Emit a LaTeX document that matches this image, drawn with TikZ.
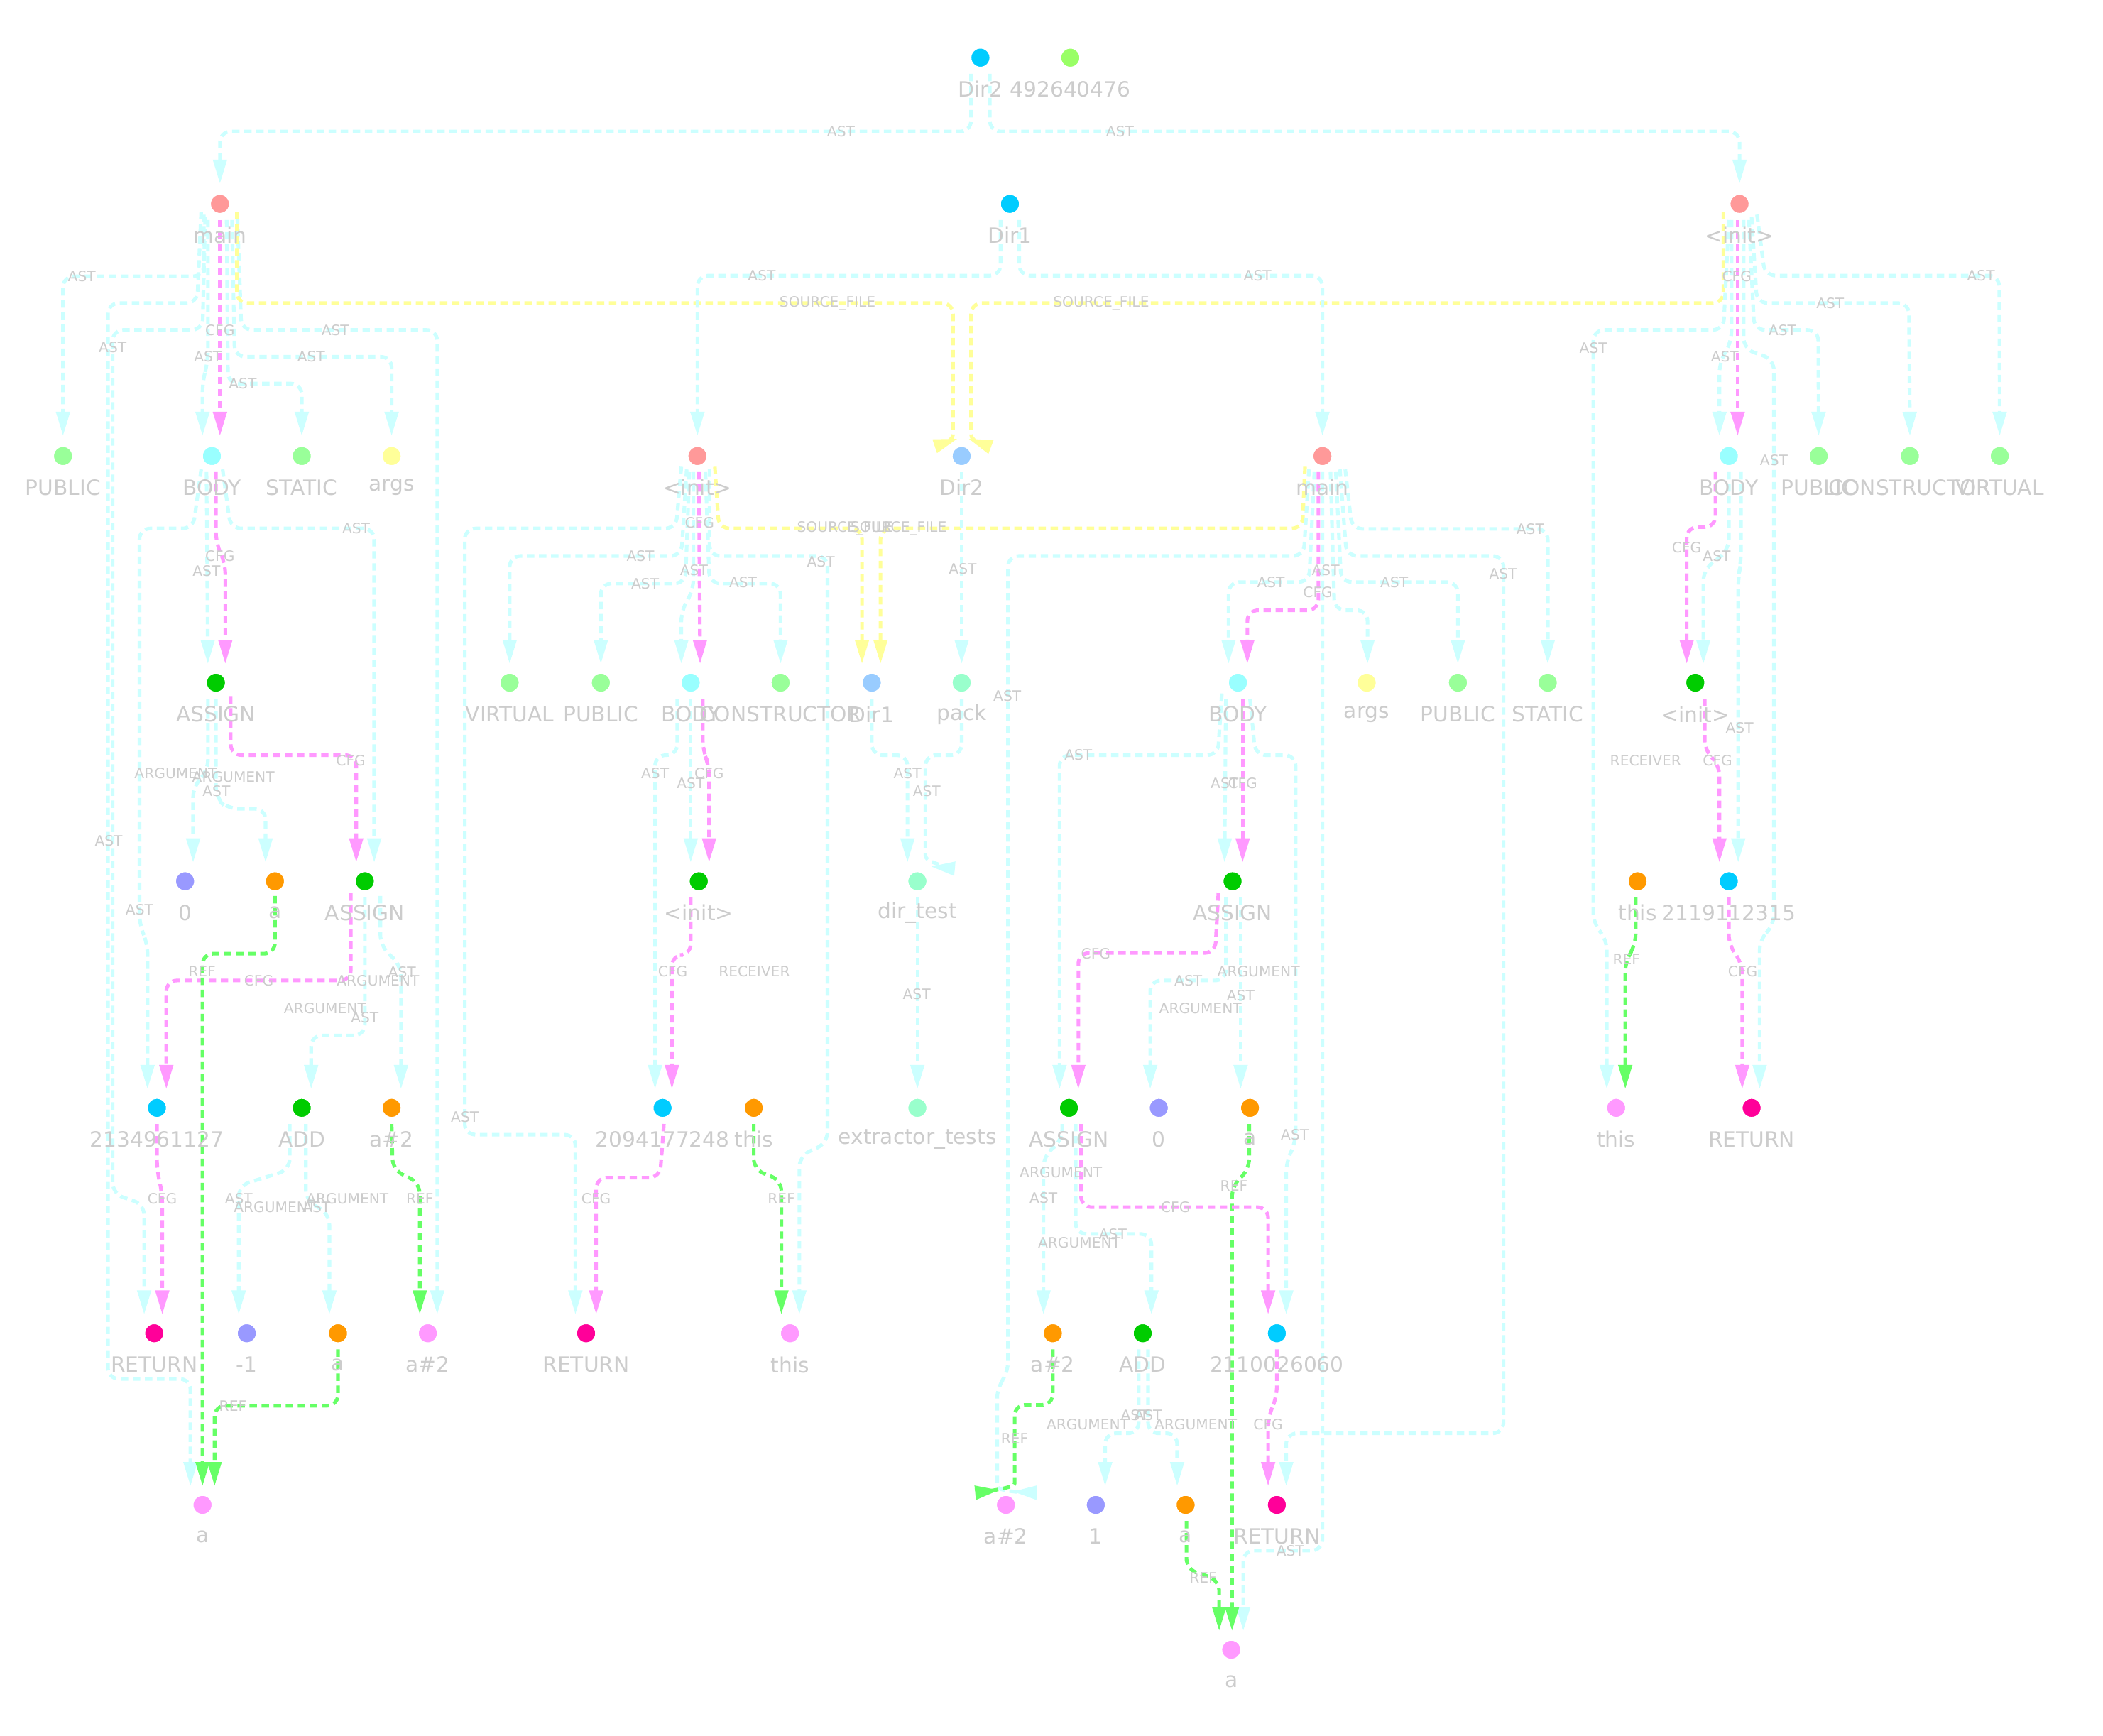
\documentclass[tikz,border=0pt]{standalone}
\usepackage{fontspec}
\setmainfont{DejaVu Sans}
\usetikzlibrary{arrows.meta,calc}
\definecolor{methc}{HTML}{FF9999}
\definecolor{dirc}{HTML}{00CCFF}
\definecolor{limec}{HTML}{99FF66}
\definecolor{modc}{HTML}{99FF99}
\definecolor{bodyc}{HTML}{99FFFF}
\definecolor{argc}{HTML}{FFFF99}
\definecolor{filec}{HTML}{99CCFF}
\definecolor{nsc}{HTML}{99FFCC}
\definecolor{callc}{HTML}{00CC00}
\definecolor{litc}{HTML}{9999FF}
\definecolor{idc}{HTML}{FF9900}
\definecolor{locc}{HTML}{FF99FF}
\definecolor{retc}{HTML}{FF0099}
\definecolor{astc}{HTML}{CCFFFF}
\definecolor{cfgc}{HTML}{FF99FF}
\definecolor{refc}{HTML}{66FF66}
\definecolor{srcc}{HTML}{FFFF99}
\definecolor{labc}{HTML}{CCCCCC}
\pgfdeclarelayer{bgl}
\pgfdeclarelayer{edg}
\pgfsetlayers{bgl,edg,main}
\tikzset{
  dot/.style={circle,minimum size=16pt,inner sep=0pt,draw=white,line width=2.5pt},
  nlab/.style={text=labc,font=\fontsize{15.7}{18}\selectfont,inner sep=0pt},
  elab/.style={text=labc,font=\fontsize{10.7}{12}\selectfont,inner sep=0pt},
  edgebase/.style={line width=2.7pt,dash pattern=on 5.5pt off 3.5pt,rounded corners=8pt,-{Triangle[length=18pt,width=10pt]}},
  ast/.style={edgebase,draw=astc},
  cfg/.style={edgebase,draw=cfgc},
  ref/.style={edgebase,draw=refc},
  src/.style={edgebase,draw=srcc},
}
\newcommand\gnode[5]{\node[dot,fill=#4] (#1) at (#2,#3) {}; \node[nlab] (#1l) at (#2,#3+23.5) {#5};}
\newcommand\elabel[4]{\node[elab] (#1) at (#2,#3) {#4};}
\begin{document}
\begin{tikzpicture}[x=1pt,y=-1pt]
\begin{pgfonlayer}{bgl}
\fill[white] (0,0) rectangle (1568,1294);
\end{pgfonlayer}
\useasboundingbox (0,0) rectangle (1568,1294);
% ---------- nodes ----------
\gnode{dirA}{731}{43}{dirc}{Dir2}
\gnode{numA}{798}{43}{limec}{492640476}
\gnode{mainL}{164}{152}{methc}{main}
\gnode{dirB}{753}{152}{dirc}{Dir1}
\gnode{initR}{1297}{152}{methc}{<init>}
\gnode{pubL}{47}{340}{modc}{PUBLIC}
\gnode{bodyL}{158}{340}{bodyc}{BODY}
\gnode{statL}{225}{340}{modc}{STATIC}
\gnode{argsL}{292}{340}{argc}{args}
\gnode{initM}{520}{340}{methc}{<init>}
\gnode{dirC}{717}{340}{filec}{Dir2}
\gnode{mainM}{986}{340}{methc}{main}
\gnode{bodyR}{1289}{340}{bodyc}{BODY}
\gnode{pubR}{1356}{340}{modc}{PUBLIC}
\gnode{consR}{1424}{340}{modc}{CONSTRUCTOR}
\gnode{virtR}{1491}{340}{modc}{VIRTUAL}
\gnode{asgA}{161}{509}{callc}{ASSIGN}
\gnode{virtM}{380}{509}{modc}{VIRTUAL}
\gnode{pubM}{448}{509}{modc}{PUBLIC}
\gnode{bodyM}{515}{509}{bodyc}{BODY}
\gnode{consM}{582}{509}{modc}{CONSTRUCTOR}
\gnode{dirD}{650}{509}{filec}{Dir1}
\gnode{pack}{717}{509}{nsc}{pack}
\gnode{bodyN}{923}{509}{bodyc}{BODY}
\gnode{argsN}{1019}{509}{argc}{args}
\gnode{pubN}{1087}{509}{modc}{PUBLIC}
\gnode{statN}{1154}{509}{modc}{STATIC}
\gnode{initS}{1264}{509}{callc}{<init>}
\gnode{zeroA}{138}{657}{litc}{0}
\gnode{aE}{205}{657}{idc}{a}
\gnode{asgB}{272}{657}{callc}{ASSIGN}
\gnode{initE}{521}{657}{callc}{<init>}
\gnode{dirtest}{684}{657}{nsc}{dir\_test}
\gnode{asgC}{919}{657}{callc}{ASSIGN}
\gnode{thisE}{1221}{657}{idc}{this}
\gnode{nB}{1289}{657}{dirc}{2119112315}
\gnode{nA}{117}{826}{dirc}{2134961127}
\gnode{addA}{225}{826}{callc}{ADD}
\gnode{aTwoF}{292}{826}{idc}{a\#2}
\gnode{nC}{494}{826}{dirc}{2094177248}
\gnode{thisF}{562}{826}{idc}{this}
\gnode{extr}{684}{826}{nsc}{extractor\_tests}
\gnode{asgD}{797}{826}{callc}{ASSIGN}
\gnode{zeroB}{864}{826}{litc}{0}
\gnode{aF}{932}{826}{idc}{a}
\gnode{thisR}{1205}{826}{locc}{this}
\gnode{retR}{1306}{826}{retc}{RETURN}
\gnode{retA}{115}{994}{retc}{RETURN}
\gnode{mOne}{184}{994}{litc}{-1}
\gnode{aG}{252}{994}{idc}{a}
\gnode{aTwoG}{319}{994}{locc}{a\#2}
\gnode{retB}{437}{994}{retc}{RETURN}
\gnode{thisG}{589}{994}{locc}{this}
\gnode{aTwoK}{785}{994}{idc}{a\#2}
\gnode{addB}{852}{994}{callc}{ADD}
\gnode{nD}{952}{994}{dirc}{2110026060}
\gnode{aH}{151}{1122}{locc}{a}
\gnode{aTwoH}{750}{1122}{locc}{a\#2}
\gnode{one}{817}{1122}{litc}{1}
\gnode{aK}{884}{1122}{idc}{a}
\gnode{retC}{952}{1122}{retc}{RETURN}
\gnode{aI}{918}{1230}{locc}{a}
% ---------- edges ----------
\begin{pgfonlayer}{edg}
% top
\draw[ast] ($(dirA)+(-7,12)$) -- (724,98) -- (164,98) -- ($(mainL)+(0,-15)$);
\draw[ast] ($(dirA)+(7,12)$) -- (738,98) -- (1297,98) -- ($(initR)+(0,-15)$);
% main (left)
\draw[ast] ($(mainL)+(-12,8)$) -- (152,206) -- (47,206) -- ($(pubL)+(0,-15)$);
\draw[ast] ($(mainL)+(-9,12)$) -- (155,270) -- (151,284) -- ($(bodyL)+(-7,-15)$);
\draw[cfg] ($(mainL)+(0,12)$) -- ($(bodyL)+(6,-15)$);
\draw[ast] ($(mainL)+(5,12)$) -- (170,286) -- (225,286) -- ($(statL)+(0,-15)$);
\draw[ast] ($(mainL)+(9,12)$) -- (175,266) -- (292,266) -- ($(argsL)+(0,-15)$);
\draw[ast] ($(mainL)+(13,10)$) -- (180,246) -- (326,246) -- ($(aTwoG)+(7,-14)$);
\draw[ast] ($(mainL)+(-14,6)$) -- (147,226) -- (80.5,226) -- (80.5,1028) -- (142,1028) -- ($(aH)+(-9,-14)$);
\draw[ast] ($(mainL)+(-11,10)$) -- (151,246) -- (84,246) -- (84,890) -- (107.5,898) -- ($(retA)+(-7.5,-14)$);
\draw[src] ($(mainL)+(12.6,6)$) -- (176.6,226) -- (710.6,226) -- (710.6,316) .. controls (710.6,330) and (696,333) .. ($(dirC)+(-3,-13)$);
\draw[src] ($(initR)+(-12,6)$) -- (1285,226) -- (724,226) -- (724,316) .. controls (724,330) and (738,333) .. ($(dirC)+(5,-13)$);
% BODY (left)
\draw[ast] ($(bodyL)+(-4,12)$) -- ($(asgA)+(-6,-14)$);
\draw[cfg] ($(bodyL)+(3,12)$) -- (161,405) -- (168,420) -- ($(asgA)+(7,-14)$);
\draw[ast] ($(bodyL)+(8,10)$) -- (172,394) -- (279,394) -- ($(asgB)+(7,-14)$);
\draw[ast] ($(bodyL)+(-8,10)$) -- (144,394) -- (104,394) -- (104,690) -- (110,703) -- ($(nA)+(-7,-14)$);
% ASSIGN (161,509)
\draw[ast] ($(asgA)+(-6,12)$) -- (155,575) -- (144,586) -- ($(zeroA)+(6,-14)$);
\draw[ast] ($(asgA)+(0,12)$) -- (161,595) -- (170,603) -- (198,603) -- ($(aE)+(-7,-14)$);
\draw[cfg] ($(asgA)+(11,10)$) -- (172,563) -- (265.6,563) -- ($(asgB)+(-6.4,-14)$);
% ASSIGN (272,657)
\draw[cfg] ($(asgB)+(-10.4,9)$) -- (261.6,731) -- (124,731) -- ($(nA)+(7,-14)$);
\draw[ast] ($(asgB)+(0,12)$) -- (272,772) -- (232,772) -- ($(addA)+(7,-14)$);
\draw[ast] ($(asgB)+(11.6,11)$) -- (283.6,705) -- (299,720) -- ($(aTwoF)+(7,-14)$);
\draw[ref] ($(aE)+(0,11)$) -- (205,711) -- (151,711) -- ($(aH)+(0,-14)$);
\draw[cfg] ($(nA)+(0,12)$) -- (117,872) -- (121,890) -- ($(retA)+(6,-14)$);
\draw[ast] ($(addA)+(-9,12)$) -- (216,872) -- (178,884) -- ($(mOne)+(-6,-14)$);
\draw[ast] ($(addA)+(3,12)$) -- (228,895) -- (245.6,905) -- ($(aG)+(-6.4,-14)$);
\draw[ref] ($(aTwoF)+(0,12)$) -- (292.8,872) -- (313,882) -- ($(aTwoG)+(-6,-14)$);
\draw[ref] ($(aG)+(0,12)$) -- (252,1048) -- (160,1048) -- ($(aH)+(9,-14)$);
% Dir1 top
\draw[ast] ($(dirB)+(-7,12)$) -- (746,205.5) -- (520,205.5) -- ($(initM)+(0,-15)$);
\draw[ast] ($(dirB)+(7,12)$) -- (760,205.5) -- (986,205.5) -- ($(mainM)+(0,-15)$);
% <init> (520,340)
\draw[cfg] ($(initM)+(1,12)$) -- ($(bodyM)+(7,-14)$);
\draw[ast] ($(initM)+(-3,12)$) -- (517,440) -- (508,455) -- ($(bodyM)+(-7,-14)$);
\draw[ast] ($(initM)+(-8,10)$) -- (508,414.5) -- (380,414.5) -- ($(virtM)+(0,-14)$);
\draw[ast] ($(initM)+(-6,12)$) -- (511,435) -- (448,435) -- ($(pubM)+(0,-14)$);
\draw[ast] ($(initM)+(6,12)$) -- (529,435) -- (582,435) -- ($(consM)+(0,-14)$);
\draw[ast] ($(initM)+(-12,8)$) -- (504,394) -- (346.5,394) -- (346.5,846) -- (429,846) -- ($(retB)+(-8,-14)$);
\draw[ast] ($(initM)+(9,10)$) -- (529,414.5) -- (617,414.5) -- (617,852) -- (596,862) -- ($(thisG)+(7,-14)$);
\draw[src] ($(initM)+(13,8)$) -- (536,394) -- (642.7,394) -- ($(dirD)+(-7.3,-14)$);
\draw[src] ($(mainM)+(-13,8)$) -- (971,394) -- (656.5,394) -- ($(dirD)+(6.5,-14)$);
% Dir2 / Dir1 / pack
\draw[ast] ($(dirC)+(0,12)$) -- ($(pack)+(0,-14)$);
\draw[ast] ($(dirD)+(0,12)$) -- (650,563) -- (676.6,563) -- ($(dirtest)+(-7.4,-14)$);
\draw[ast] ($(pack)+(0,12)$) -- (717,563) -- (690,563) -- (690,630) .. controls (690,644) and (716,648) .. ($(dirtest)+(10,-11)$);
\draw[ast] ($(dirtest)+(0,12)$) -- ($(extr)+(0,-14)$);
% BODY (515,509)
\draw[ast] ($(bodyM)+(0,12)$) -- ($(initE)+(-6,-14)$);
\draw[cfg] ($(bodyM)+(9,12)$) -- (524,560) -- (528.7,570) -- ($(initE)+(7.7,-14)$);
\draw[ast] ($(bodyM)+(-10,12)$) -- (505,563) -- (488.4,563) -- ($(nC)+(-5.6,-14)$);
\draw[cfg] ($(initE)+(-6,12)$) -- (515,712) -- (501,712) -- ($(nC)+(7,-14)$);
\draw[cfg] ($(nC)+(1,12)$) -- (492,878) -- (444.5,878) -- ($(retB)+(7.5,-14)$);
\draw[ref] ($(thisF)+(0,12)$) -- (562,872) -- (582.6,880) -- ($(thisG)+(-6.4,-14)$);
% main (986,340)
\draw[ast] ($(mainM)+(-6,12)$) -- (976,434) -- (916,434) -- ($(bodyN)+(-7,-14)$);
\draw[cfg] ($(mainM)+(-3,12)$) -- (983,455) -- (930,455) -- ($(bodyN)+(7,-14)$);
\draw[ast] ($(mainM)+(6,12)$) -- (995,455) -- (1019.6,455) -- ($(argsN)+(0.6,-14)$);
\draw[ast] ($(mainM)+(10,12)$) -- (1000,434) -- (1087,434) -- ($(pubN)+(0,-14)$);
\draw[ast] ($(mainM)+(17,10)$) -- (1008,394.3) -- (1154,394.3) -- ($(statN)+(0,-14)$);
\draw[ast] ($(mainM)+(13,10)$) -- (1004,414.5) -- (1121,414.5) -- (1121,1068.6) -- (959,1068.6) -- ($(retC)+(7,-14)$);
\draw[ast] ($(mainM)+(0,12)$) -- (986,1156) -- (927,1156) -- ($(aI)+(9,-14)$);
\draw[ast] ($(mainM)+(-10,10)$) -- (972,414.5) -- (751.5,414.5) -- (751.5,1024) -- (743.5,1034) -- (743.5,1100) .. controls (743.5,1113) and (776,1113) .. ($(aTwoH)+(5,-10)$);
% BODY (923,509)
\draw[ast] ($(bodyN)+(-9,12)$) -- ($(asgC)+(-6,-14)$);
\draw[cfg] ($(bodyN)+(3.5,12)$) -- ($(asgC)+(7.5,-14)$);
\draw[ast] ($(bodyN)+(-12,8)$) -- (908,563) -- (790,563) -- ($(asgD)+(-7,-14)$);
\draw[ast] ($(bodyN)+(9,12)$) -- (936,563) -- (966,563) -- (966,852) -- (959,866) -- ($(nD)+(7,-14)$);
% ASSIGN (919,657)
\draw[cfg] ($(asgC)+(-10.6,9)$) -- (906,710.5) -- (804,710.5) -- ($(asgD)+(7,-14)$);
\draw[ast] ($(asgC)+(-5,12)$) -- (914,731) -- (857.6,731) -- ($(zeroB)+(-6.4,-14)$);
\draw[ast] ($(asgC)+(6,12)$) -- ($(aF)+(-7,-14)$);
\draw[ref] ($(aF)+(-0.6,12)$) -- (931.4,872) -- (918.6,884) -- ($(aI)+(0.6,-14)$);
% ASSIGN (797,826)
\draw[cfg] ($(asgD)+(9,12)$) -- (806,900) -- (945.5,900) -- ($(nD)+(-6.5,-14)$);
\draw[ast] ($(asgD)+(-5,12)$) -- (792,850) -- (778,862) -- ($(aTwoK)+(-7,-14)$);
\draw[ast] ($(asgD)+(5,12)$) -- (802,920) -- (858.5,920) -- ($(addB)+(6.5,-14)$);
\draw[ref] ($(aTwoK)+(0,12)$) -- (785,1047.4) -- (756.5,1047.4) -- (756.5,1098) .. controls (756.5,1110) and (726,1113) .. ($(aTwoH)+(-5,-11)$);
\draw[ast] ($(addB)+(-3,12)$) -- (849,1068.6) -- (824,1068.6) -- ($(one)+(7,-14)$);
\draw[ast] ($(addB)+(4,12)$) -- (856,1068.6) -- (877.7,1068.6) -- ($(aK)+(-6.3,-14)$);
\draw[ref] ($(aK)+(0.6,12)$) -- (884.6,1170) -- (909,1178) -- ($(aI)+(-9,-14)$);
\draw[cfg] ($(nD)+(0,12)$) -- (952,1042) -- (945.5,1056) -- ($(retC)+(-6.5,-14)$);
% <init> (1297,152)
\draw[ast] ($(initR)+(-6,12)$) -- (1291,255) -- (1282,270) -- ($(bodyR)+(-7,-15)$);
\draw[cfg] ($(initR)+(-1.4,12)$) -- ($(bodyR)+(6.6,-15)$);
\draw[ast] ($(initR)+(7,12)$) -- (1308,246) -- (1355.7,246) -- ($(pubR)+(0,-15)$);
\draw[ast] ($(initR)+(9,10)$) -- (1310,226) -- (1423.3,226) -- ($(consR)+(0,-15)$);
\draw[ast] ($(initR)+(13,8)$) -- (1316,205.5) -- (1490.6,205.5) -- ($(virtR)+(0,-15)$);
\draw[ast] ($(initR)+(-8,12)$) -- (1285,246) -- (1188,246) -- (1188,689) -- (1198,700) -- ($(thisR)+(-7,-14)$);
\draw[ast] ($(initR)+(3,12)$) -- (1300,260) -- (1322.6,268) -- (1322.6,690) -- (1312,700) -- ($(retR)+(6,-14)$);
% BODY (1289,340)
\draw[cfg] ($(bodyR)+(-10,12)$) -- (1279,393) -- (1257.6,393) -- ($(initS)+(-6.4,-14)$);
\draw[ast] ($(bodyR)+(0,12)$) -- (1289,410) -- (1270,425) -- ($(initS)+(6,-14)$);
\draw[ast] ($(bodyR)+(9,12)$) -- (1298,420) -- (1296,430) -- ($(nB)+(7,-14)$);
\draw[cfg] ($(initS)+(7,12)$) -- (1271,560) -- (1282,570) -- ($(nB)+(-7,-14)$);
\draw[ref] ($(thisE)+(-1.5,12)$) -- (1219.5,705) -- (1211.8,716) -- ($(thisR)+(6.8,-14)$);
\draw[cfg] ($(nB)+(0,12)$) -- (1289,705) -- (1299,718) -- ($(retR)+(-7,-14)$);
\end{pgfonlayer}
% ---------- edge labels ----------
\elabel{e1}{627}{98}{AST}
\elabel{e2}{835}{98}{AST}
\elabel{e3}{61}{206}{AST}
\elabel{e4}{617}{226}{SOURCE\_FILE}
\elabel{e5}{821}{226}{SOURCE\_FILE}
\elabel{e6}{568}{205.5}{AST}
\elabel{e7}{937.6}{205.5}{AST}
\elabel{e8}{164}{246}{CFG}
\elabel{e9}{250}{246}{AST}
\elabel{e10}{84}{259}{AST}
\elabel{e11}{155}{266}{AST}
\elabel{e12}{232}{266}{AST}
\elabel{e13}{181}{286}{AST}
\elabel{e14}{1477}{205.5}{AST}
\elabel{e15}{1295}{206}{CFG}
\elabel{e16}{1364.6}{226}{AST}
\elabel{e17}{1329}{246}{AST}
\elabel{e18}{1188}{259.4}{AST}
\elabel{e19}{1286}{266}{AST}
\elabel{e20}{1322.6}{343.3}{AST}
\elabel{e21}{265.5}{394}{AST}
\elabel{e22}{164}{414.5}{CFG}
\elabel{e23}{154}{425.6}{AST}
\elabel{e24}{521.6}{389.6}{CFG}
\elabel{e25}{630}{394}{SOURCE\_FILE}
\elabel{e26}{670}{394}{SOURCE\_FILE}
\elabel{e27}{477.5}{414.5}{AST}
\elabel{e28}{612}{418.6}{AST}
\elabel{e29}{517.4}{425}{AST}
\elabel{e30}{481}{435}{AST}
\elabel{e31}{554}{434}{AST}
\elabel{e32}{717.8}{424}{AST}
\elabel{e33}{1141}{394.3}{AST}
\elabel{e34}{988.4}{425}{AST}
\elabel{e35}{1120.7}{427.8}{AST}
\elabel{e36}{947.6}{434}{AST}
\elabel{e37}{1039.5}{434}{AST}
\elabel{e38}{982.6}{441.6}{CFG}
\elabel{e39}{1257.6}{408}{CFG}
\elabel{e40}{1280}{414.5}{AST}
\elabel{e41}{751}{519}{AST}
\elabel{e42}{1297}{542.6}{AST}
\elabel{e43}{131}{576.6}{ARGUMENT}
\elabel{e44}{174}{579}{ARGUMENT}
\elabel{e45}{161.4}{590}{AST}
\elabel{e46}{261.6}{567}{CFG}
\elabel{e47}{488.4}{576.4}{AST}
\elabel{e48}{515}{584}{AST}
\elabel{e49}{528.7}{576.4}{CFG}
\elabel{e50}{676.6}{576.5}{AST}
\elabel{e51}{691}{590}{AST}
\elabel{e52}{804}{563}{AST}
\elabel{e53}{913}{584}{AST}
\elabel{e54}{926.5}{584}{CFG}
\elabel{e55}{1227}{567}{RECEIVER}
\elabel{e56}{1280.6}{567}{CFG}
\elabel{e57}{81}{627}{AST}
\elabel{e58}{104}{678}{AST}
\elabel{e59}{150.6}{724.5}{REF}
\elabel{e60}{193}{731}{CFG}
\elabel{e61}{299.8}{724.8}{AST}
\elabel{e62}{281.8}{731}{ARGUMENT}
\elabel{e63}{242.4}{751.7}{ARGUMENT}
\elabel{e64}{272}{758.6}{AST}
\elabel{e65}{501.6}{724.5}{CFG}
\elabel{e66}{562.4}{724.5}{RECEIVER}
\elabel{e67}{683.5}{741.4}{AST}
\elabel{e68}{817}{711}{CFG}
\elabel{e69}{886}{731}{AST}
\elabel{e70}{895}{751.7}{ARGUMENT}
\elabel{e71}{938.4}{724.5}{ARGUMENT}
\elabel{e72}{925}{742}{AST}
\elabel{e73}{1212.7}{715}{REF}
\elabel{e74}{1299.4}{724.5}{CFG}
\elabel{e75}{346.6}{832.8}{AST}
\elabel{e76}{965.4}{845.8}{AST}
\elabel{e77}{121}{893.5}{CFG}
\elabel{e78}{178}{893.5}{AST}
\elabel{e79}{205}{900}{ARGUMENT}
\elabel{e80}{236}{900}{AST}
\elabel{e81}{259}{893.5}{ARGUMENT}
\elabel{e82}{313}{893.5}{REF}
\elabel{e83}{444.5}{893.5}{CFG}
\elabel{e84}{582.6}{893.5}{REF}
\elabel{e85}{791}{874}{ARGUMENT}
\elabel{e86}{778}{893}{AST}
\elabel{e87}{920}{884}{REF}
\elabel{e88}{876.5}{900}{CFG}
\elabel{e89}{829.7}{920}{AST}
\elabel{e90}{804.7}{926.5}{ARGUMENT}
\elabel{e91}{173.6}{1048}{REF}
\elabel{e92}{756.5}{1072.3}{REF}
\elabel{e93}{846}{1055}{AST}
\elabel{e94}{856}{1055}{AST}
\elabel{e95}{811}{1062}{ARGUMENT}
\elabel{e96}{891.5}{1062}{ARGUMENT}
\elabel{e97}{945.5}{1062}{CFG}
\elabel{e98}{962}{1156}{AST}
\elabel{e99}{897}{1176.4}{REF}
\end{tikzpicture}
\end{document}
